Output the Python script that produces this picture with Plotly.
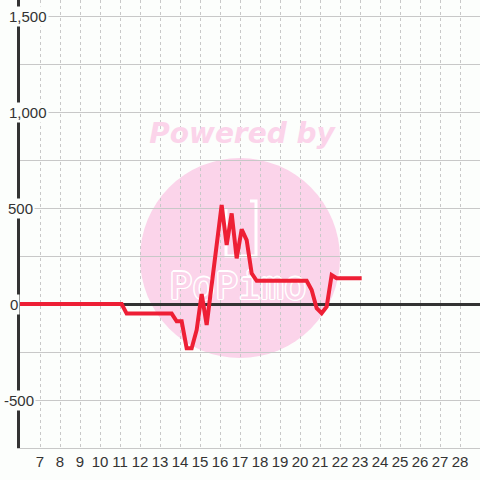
import plotly.graph_objects as go

# ---- data (hours of day, value) ----
hours = [6.0, 11.083, 11.333, 13.583, 13.833, 14.083, 14.333, 14.583, 14.833,
         15.083, 15.333, 15.583, 15.833, 16.083, 16.333, 16.583, 16.833,
         17.083, 17.333, 17.583, 17.833, 20.333, 20.583, 20.833, 21.083,
         21.333, 21.583, 21.833, 23.083]
values = [0, 0, -50, -50, -90, -90, -230, -230, -135,
          52, -109, 109, 328, 516, 307, 472, 238,
          389, 333, 160, 121, 121, 73, -22, -48,
          -14, 151, 134, 134]
x_ticks = list(range(7, 29))
y_label_vals = [1500, 1000, 500, 0, -500]
y_label_text = ["1,500", "1,000", "500", "0", "-500"]

BG = "#fcfefc"
GRID = "#c8c8c8"
DARK = "#333333"
RED = "#ee1f35"
PINK = "#fbd4ea"
FONT = "Liberation Sans, Arial, sans-serif"

# pixel -> data helpers for decorative watermark placement
def px_x(px):
    return 6 + (px - 20) / 20.0

def px_y(py):
    return (304 - py) * 500.0 / 96.0

fig = go.Figure()

# watermark text (drawn under the data line)
fig.add_trace(go.Scatter(
    x=[px_x(242)], y=[px_y(136)], mode="text", text=["<b><i>Powered by</i></b>"],
    textfont=dict(family="DejaVu Sans, sans-serif", size=28, color=PINK),
    hoverinfo="skip", showlegend=False, cliponaxis=False))
fig.add_trace(go.Scatter(
    x=[px_x(238)], y=[px_y(289)], mode="text", text=["PoPimo"],
    textfont=dict(family="DejaVu Sans Mono, monospace", size=38, color=PINK,
                  shadow=("1.5px 0 0 #fff, -1.5px 0 0 #fff, 0 1.5px 0 #fff, 0 -1.5px 0 #fff, "
                          "1px 1px 0 #fff, -1px -1px 0 #fff, 1px -1px 0 #fff, -1px 1px 0 #fff")),
    hoverinfo="skip", showlegend=False, cliponaxis=False))

# data line
fig.add_trace(go.Scatter(
    x=hours, y=values, mode="lines",
    line=dict(color=RED, width=4),
    hoverinfo="skip", showlegend=False))

shapes = [
    dict(type="circle", xref="x", yref="y", layer="below",
         x0=px_x(140), x1=px_x(340), y0=px_y(158), y1=px_y(358),
         fillcolor=PINK, line=dict(width=0)),
    dict(type="path", xref="x", yref="y", layer="below",
         path=("M {a},{b} L {a},{c} L {d},{c} L {d},{e} L {f},{e}").format(
             a=px_x(226), b=px_y(209), c=px_y(256), d=px_x(256), e=px_y(201), f=px_x(250)),
         line=dict(color="white", width=3)),
]

annotations = []
lefts = [7, 7, 6, 8, 2]
for v, t, lx in zip(y_label_vals, y_label_text, lefts):
    annotations.append(dict(
        x=(lx - 20) / 460.0, xref="paper", y=v, yref="y",
        xanchor="left", yanchor="middle", text=t, showarrow=False,
        font=dict(family=FONT, size=15, color=DARK),
        bgcolor=BG, borderpad=1))

fig.update_layout(
    width=480, height=480,
    margin=dict(l=20, r=0, t=0, b=32, autoexpand=False),
    paper_bgcolor=BG, plot_bgcolor=BG,
    shapes=shapes, annotations=annotations,
    xaxis=dict(range=[6, 29], tickvals=x_ticks, ticktext=[str(v) for v in x_ticks],
               automargin=False,
               showgrid=True, gridcolor=GRID, gridwidth=1, griddash="3px,3px",
               zeroline=False, showline=True, linecolor=GRID, linewidth=1,
               ticks="", tickfont=dict(family=FONT, size=15, color=DARK)),
    yaxis=dict(range=[-750, 1583.333], tick0=0, dtick=250, automargin=False,
               showgrid=True, gridcolor=GRID, gridwidth=1,
               zeroline=True, zerolinecolor=DARK, zerolinewidth=3,
               showline=True, linecolor=DARK, linewidth=3,
               showticklabels=False, ticks=""),
)

fig.write_html("out.html", config={"displayModeBar": False},
               post_script="document.body.style.margin='0px';document.body.style.background='" + BG + "';")
